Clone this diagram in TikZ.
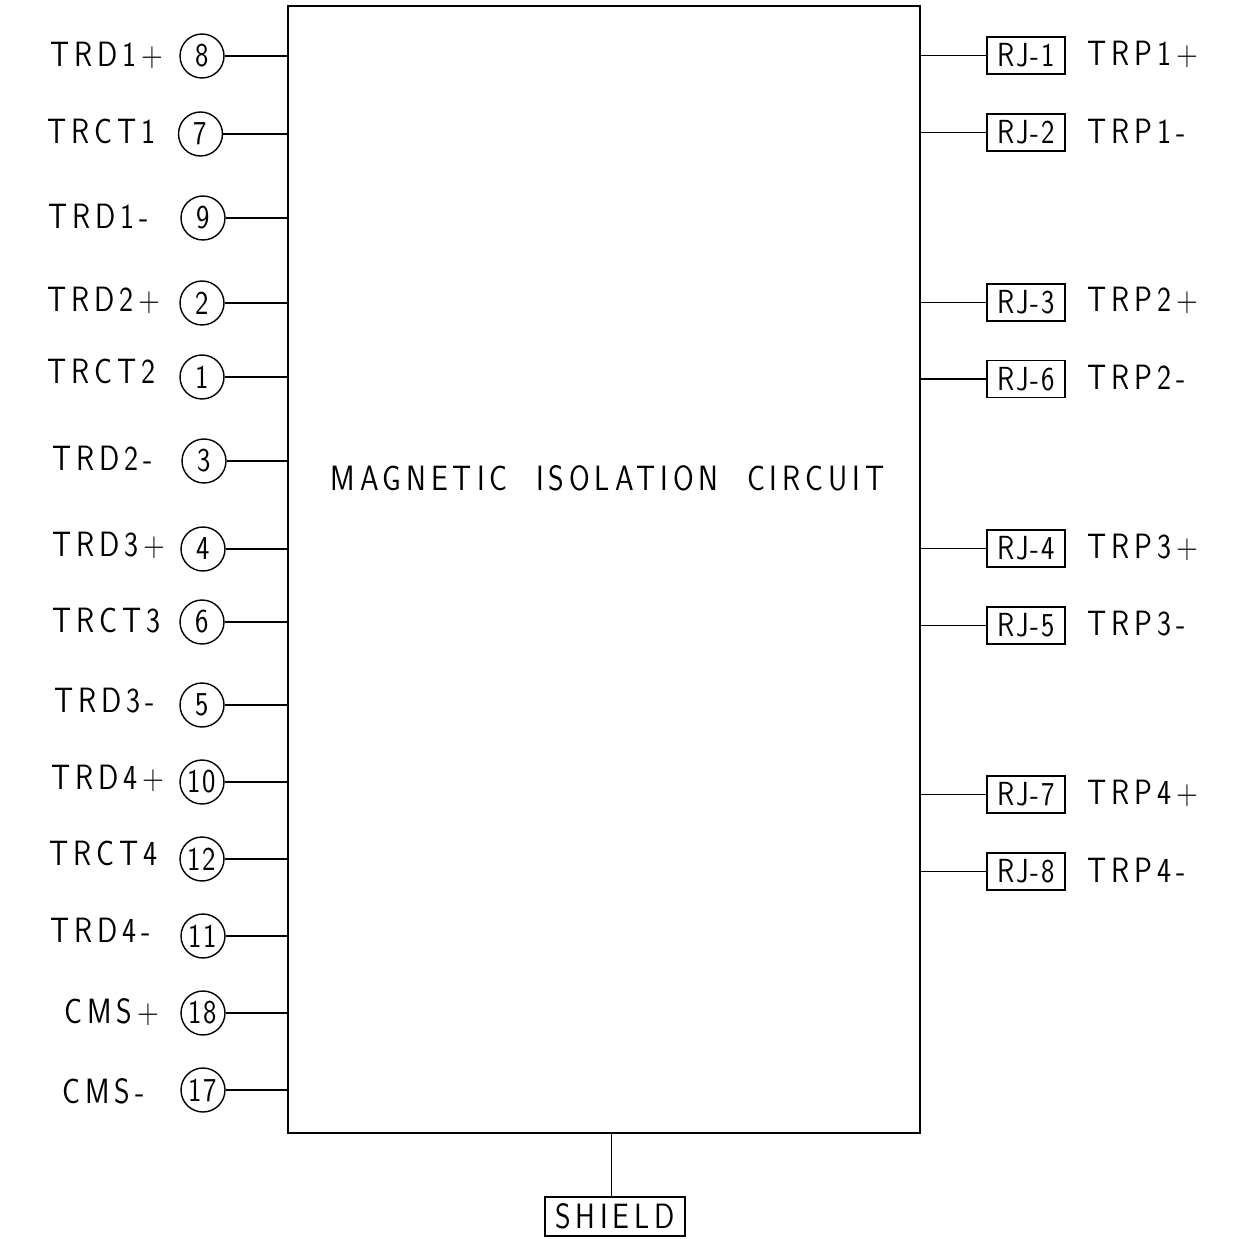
\documentclass[tikz,border=0pt]{standalone}
\usepackage{fontspec}
\newfontfamily\cadfont[LetterSpace=14,FakeStretch=0.85]{Latin Modern Sans}
\newfontfamily\jackfont[LetterSpace=6,FakeStretch=0.85]{Latin Modern Sans}
\tikzset{
    x=0.02cm, y=-0.02cm,
    pin/.style={draw, circle, inner sep=0pt, minimum size=0.88cm, font=\jackfont\fontsize{19}{19}\selectfont},
    jack/.style={draw, rectangle, inner sep=0pt, minimum width=1.56cm, minimum height=0.74cm, font=\jackfont\fontsize{19}{19}\selectfont},
    tag/.style={inner sep=0pt, anchor=west, font=\cadfont\fontsize{20}{20}\selectfont},
    wire/.style={line width=0.8pt},
}
\begin{document}
\begin{tikzpicture}[line width=0.8pt]
    \useasboundingbox (0, 0) rectangle (1237, 1239);
    % Main block
    \node[draw, rectangle, minimum width=12.64cm, minimum height=22.54cm, inner sep=0pt] (block) at (604, 569.5) {};
    \node[tag] (title) at (330, 478) {MAGNETIC\ \ ISOLATION\ \ CIRCUIT};
    % Left side
    \node[pin] (P8) at (202, 56) {8};
    \node[tag] (L8) at (50, 55) {TRD1+};
    \node[pin] (P7) at (200.5, 134) {7};
    \node[tag] (L7) at (47, 131) {TRCT1};
    \node[pin] (P9) at (203, 218) {9};
    \node[tag] (L9) at (48, 216) {TRD1-};
    \node[pin] (P2) at (202, 303) {2};
    \node[tag] (L2) at (47, 300) {TRD2+};
    \node[pin] (P1) at (202, 377) {1};
    \node[tag] (L1) at (47, 371) {TRCT2};
    \node[pin] (P3) at (204, 461) {3};
    \node[tag] (L3) at (52, 458) {TRD2-};
    \node[pin] (P4) at (203, 549) {4};
    \node[tag] (L4) at (52, 545) {TRD3+};
    \node[pin] (P6) at (202, 622) {6};
    \node[tag] (L6) at (52, 621) {TRCT3};
    \node[pin] (P5) at (202, 705) {5};
    \node[tag] (L5) at (54, 701) {TRD3-};
    \node[pin] (P10) at (202, 782) {10};
    \node[tag] (L10) at (51, 778) {TRD4+};
    \node[pin] (P12) at (202, 859) {12};
    \node[tag] (L12) at (49, 853) {TRCT4};
    \node[pin] (P11) at (203, 936) {11};
    \node[tag] (L11) at (50, 930) {TRD4-};
    \node[pin] (P18) at (203, 1013) {18};
    \node[tag] (L18) at (64, 1012) {CMS+};
    \node[pin] (P17) at (203, 1090) {17};
    \node[tag] (L17) at (62, 1091) {CMS-};
    \draw[wire] (P8) -- (P8 -| block.west);
    \draw[wire] (P7) -- (P7 -| block.west);
    \draw[wire] (P9) -- (P9 -| block.west);
    \draw[wire] (P2) -- (P2 -| block.west);
    \draw[wire] (P1) -- (P1 -| block.west);
    \draw[wire] (P3) -- (P3 -| block.west);
    \draw[wire] (P4) -- (P4 -| block.west);
    \draw[wire] (P6) -- (P6 -| block.west);
    \draw[wire] (P5) -- (P5 -| block.west);
    \draw[wire] (P10) -- (P10 -| block.west);
    \draw[wire] (P12) -- (P12 -| block.west);
    \draw[wire] (P11) -- (P11 -| block.west);
    \draw[wire] (P18) -- (P18 -| block.west);
    \draw[wire] (P17) -- (P17 -| block.west);
    % Right side
    \node[jack] (RJ1) at (1026, 55.5) {RJ-1};
    \node[tag] (R1) at (1087, 54) {TRP1+};
    \node[jack] (RJ2) at (1026, 132.5) {RJ-2};
    \node[tag] (R2) at (1087, 131) {TRP1-};
    \node[jack] (RJ3) at (1026, 302.5) {RJ-3};
    \node[tag] (R3) at (1087, 300) {TRP2+};
    \node[jack] (RJ6) at (1026, 379) {RJ-6};
    \node[tag] (R6) at (1087, 377) {TRP2-};
    \node[jack] (RJ4) at (1026, 548.5) {RJ-4};
    \node[tag] (R4) at (1087, 547) {TRP3+};
    \node[jack] (RJ5) at (1026, 625.5) {RJ-5};
    \node[tag] (R5) at (1087, 624) {TRP3-};
    \node[jack] (RJ7) at (1026, 794.5) {RJ-7};
    \node[tag] (R7) at (1087, 793) {TRP4+};
    \node[jack] (RJ8) at (1026, 871.5) {RJ-8};
    \node[tag] (R8) at (1087, 870) {TRP4-};
    \draw[wire] (RJ1.west) -- (RJ1 -| block.east);
    \draw[wire] (RJ2.west) -- (RJ2 -| block.east);
    \draw[wire] (RJ3.west) -- (RJ3 -| block.east);
    \draw[wire] (RJ6.west) -- (RJ6 -| block.east);
    \draw[wire] (RJ4.west) -- (RJ4 -| block.east);
    \draw[wire] (RJ5.west) -- (RJ5 -| block.east);
    \draw[wire] (RJ7.west) -- (RJ7 -| block.east);
    \draw[wire] (RJ8.west) -- (RJ8 -| block.east);
    % Bottom
    \node[jack, minimum width=2.8cm, minimum height=0.78cm, font=\cadfont\fontsize{20}{20}\selectfont] (shield) at (615, 1216.5) {SHIELD};
    \coordinate (tap) at (611.5, 1197);
    \draw[wire] (tap) -- (tap |- block.south);
\end{tikzpicture}
\end{document}
